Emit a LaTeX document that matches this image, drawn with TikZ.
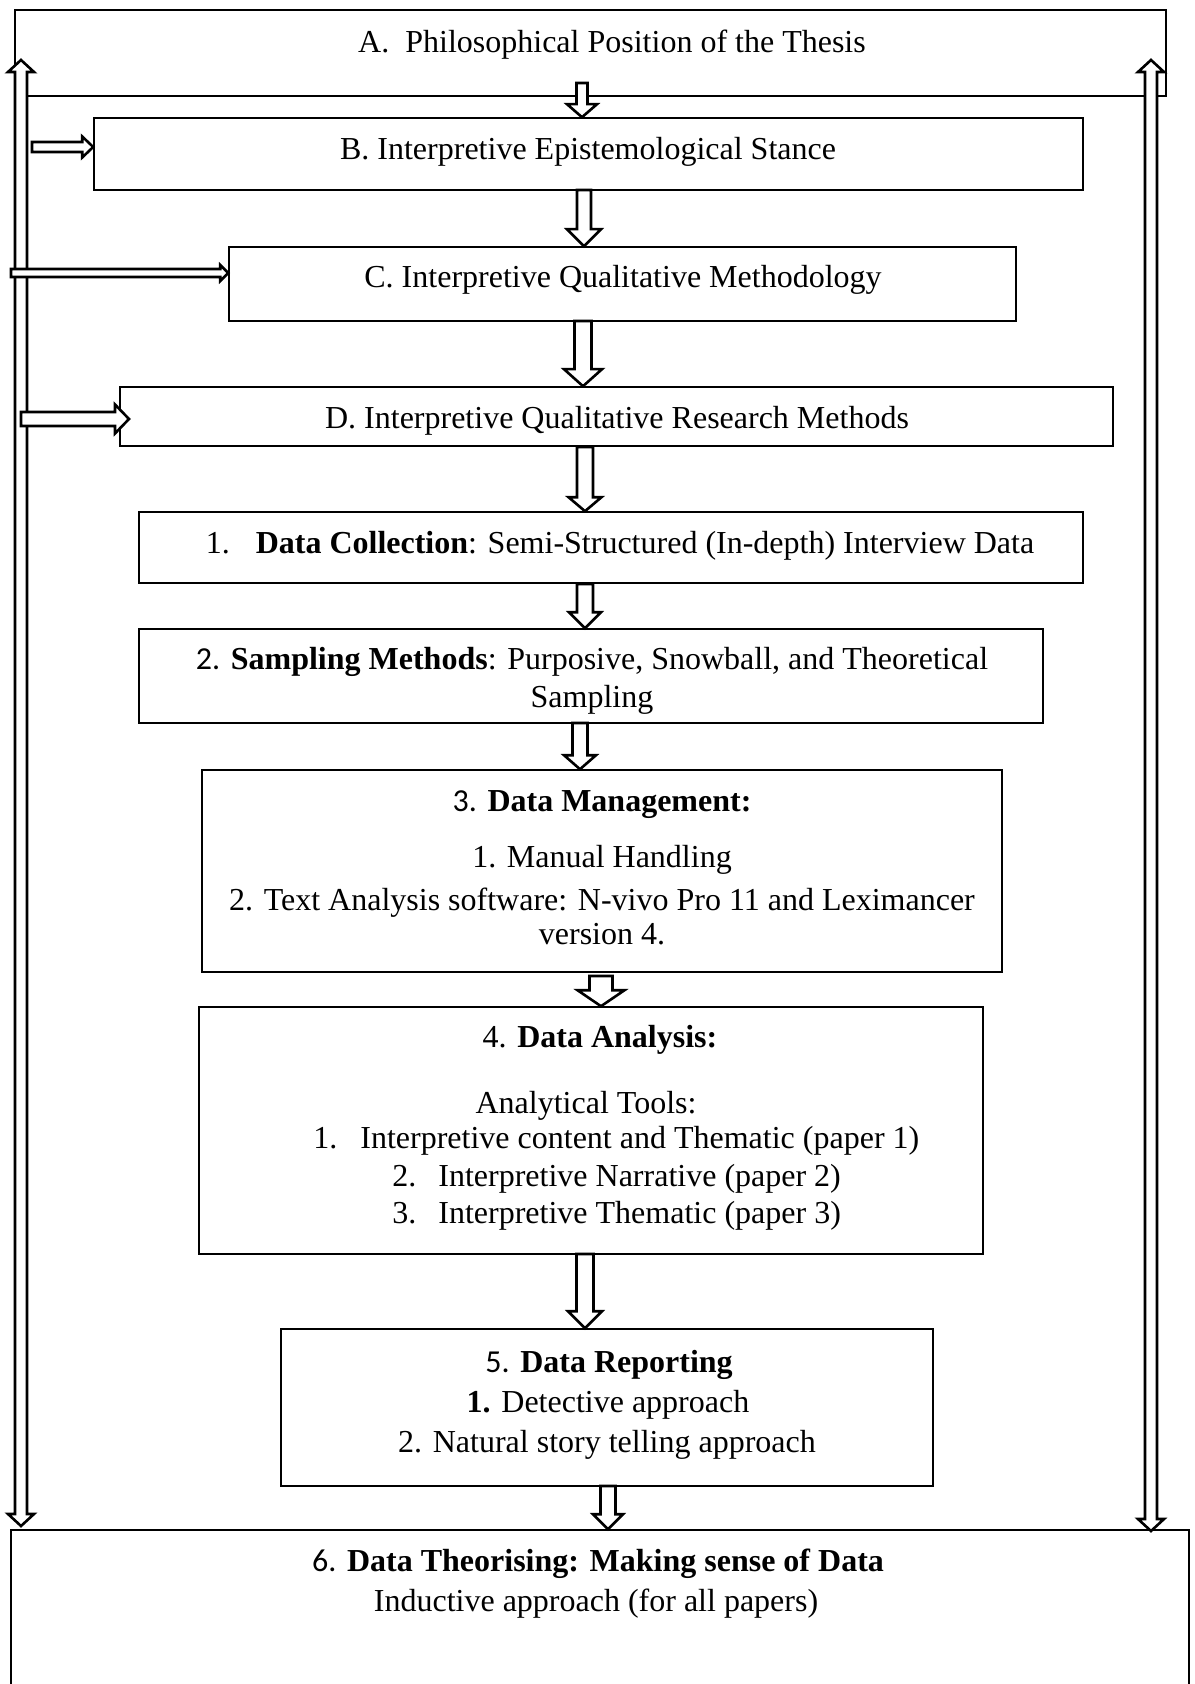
\documentclass[tikz,border=0pt]{standalone}
\usepackage{fontspec}
\setmainfont{Liberation Serif}
\newfontfamily\numfont{Carlito}
\usetikzlibrary{calc}

% Hollow block arrow from #1 to the tip #2:
% #3 half shaft width, #4 half head width, #5 head length
\newcommand{\blockarrow}[5]{%
  \coordinate (ba-h) at ($(#2)!#5!(#1)$);
  \draw[hollowarrow] ($(#1)!#3!90:(#2)$) -- ($(ba-h)!#3!-90:(#1)$)
    -- ($(ba-h)!#4!-90:(#1)$) -- (#2) -- ($(ba-h)!#4!90:(#1)$)
    -- ($(ba-h)!#3!90:(#1)$) -- ($(#1)!#3!-90:(#2)$) -- cycle;
}
% Hollow arrow with a head at both ends, tips #1 and #2
\newcommand{\doubleblockarrow}[5]{%
  \coordinate (da-h1) at ($(#1)!#5!(#2)$);
  \coordinate (da-h2) at ($(#2)!#5!(#1)$);
  \draw[hollowarrow] (#1) -- ($(da-h1)!#4!90:(#2)$) -- ($(da-h1)!#3!90:(#2)$)
    -- ($(da-h2)!#3!-90:(#1)$) -- ($(da-h2)!#4!-90:(#1)$) -- (#2)
    -- ($(da-h2)!#4!90:(#1)$) -- ($(da-h2)!#3!90:(#1)$)
    -- ($(da-h1)!#3!-90:(#2)$) -- ($(da-h1)!#4!-90:(#2)$) -- cycle;
}

\tikzset{
  boxframe/.style={draw, line width=0.8pt, rectangle, inner sep=0pt},
  hollowarrow/.style={draw, fill=white, line width=1.3pt, line join=miter},
  txt/.style={inner sep=0pt, font=\fontsize{16pt}{18.5pt}\selectfont,
    text height=15pt, text depth=3.5pt},
}

\begin{document}
\begin{tikzpicture}[x=0.5pt, y=-0.5pt]
\fill[white] (0,0) rectangle (1194,1684);
\clip (0,0) rectangle (1194,1684);

% boxes
\node[boxframe, minimum width=575.5pt, minimum height=43pt]  (A)  at (590.5,53) {};
\node[boxframe, minimum width=494.5pt, minimum height=36pt]  (B)  at (588.5,154) {};
\node[boxframe, minimum width=393.5pt, minimum height=37pt]  (C)  at (622.5,284) {};
\node[boxframe, minimum width=496.5pt, minimum height=29.5pt] (D) at (616.5,416.5) {};
\node[boxframe, minimum width=472pt, minimum height=35.5pt]  (S1) at (611,547.5) {};
\node[boxframe, minimum width=452pt, minimum height=47pt]    (S2) at (591,676) {};
\node[boxframe, minimum width=400pt, minimum height=101pt]   (S3) at (602,871) {};
\node[boxframe, minimum width=392pt, minimum height=123.5pt] (S4) at (591,1130.5) {};
\node[boxframe, minimum width=326pt, minimum height=78.5pt]  (S5) at (607,1407.5) {};
\node[boxframe, minimum width=589pt, minimum height=100pt]   (S6) at (600,1630) {};

% texts
\node[txt] (tA) at (612,41) {A.\ \ Philosophical Position of the Thesis};
\node[txt] (tB) at (588,148) {B. Interpretive Epistemological Stance};
\node[txt] (tC) at (623,276) {C. Interpretive Qualitative Methodology};
\node[txt] (tD) at (617,417) {D. Interpretive Qualitative Research Methods};
\node[txt] (t1) at (620,542) {1.\hspace{13pt}\textbf{Data Collection}: Semi-Structured (In-depth) Interview Data};
\node[txt] (t2a) at (592,658) {{\numfont 2.} \textbf{Sampling Methods}: Purposive, Snowball, and Theoretical};
\node[txt] (t2b) at (592,696) {Sampling};
\node[txt] (t3a) at (602,800) {{\numfont 3.} \textbf{Data Management:}};
\node[txt] (t3b) at (602,856) {1. Manual Handling};
\node[txt] (t3c) at (602,899) {2. Text Analysis software: N-vivo Pro 11 and Leximancer};
\node[txt] (t3d) at (602,933) {version 4.};
\node[txt] (t4a) at (600,1036) {4. \textbf{Data Analysis:}};
\node[txt] (t4b) at (586,1102) {Analytical Tools:};
\node[txt, anchor=west] (t4c) at (313,1137) {1.\hspace{11.5pt}Interpretive content and Thematic (paper 1)};
\node[txt, anchor=west] (t4d) at (392,1175) {2.\hspace{11pt}Interpretive Narrative (paper 2)};
\node[txt, anchor=west] (t4e) at (392,1212) {3.\hspace{11pt}Interpretive Thematic (paper 3)};
\node[txt] (t5a) at (609,1361) {{\numfont 5.} \textbf{Data Reporting}};
\node[txt] (t5b) at (608,1401) {\textbf{1.} Detective approach};
\node[txt] (t5c) at (607,1441) {2. Natural story telling approach};
\node[txt] (t6a) at (598,1560) {{\numfont 6.} \textbf{Data Theorising: Making sense of Data}};
\node[txt] (t6b) at (596,1600) {Inductive approach (for all papers)};

% long feedback arrows on both sides
\coordinate (L1) at (21,60);
\coordinate (L2) at (21,1526);
\coordinate (R1) at (1151,60);
\coordinate (R2) at (1151,1531);
\doubleblockarrow{L1}{L2}{3pt}{6.5pt}{6pt}
\doubleblockarrow{R1}{R2}{3pt}{6.5pt}{6pt}

% side arrows into B, C and D
\coordinate (hB) at (32,147);
\coordinate (hBt) at (hB -| B.west);
\blockarrow{hB}{hBt}{2.5pt}{5.25pt}{5.5pt}
\coordinate (hC) at (11,273);
\coordinate (hCt) at (hC -| C.west);
\blockarrow{hC}{hCt}{2pt}{4pt}{4pt}
\coordinate (hD) at (21,419);
\coordinate (hDt) at (129,419);
\blockarrow{hD}{hDt}{3.5pt}{7.25pt}{7pt}

% downward chain
\coordinate (vAB) at (582,83);
\coordinate (vABt) at (vAB |- B.north);
\blockarrow{vAB}{vABt}{2.75pt}{7.5pt}{6.5pt}

\coordinate (vBC) at (584,190);
\coordinate (vBCt) at (vBC |- C.north);
\blockarrow{vBC}{vBCt}{3.5pt}{8.5pt}{8.5pt}

\coordinate (vCD) at (583,321);
\coordinate (vCDt) at (vCD |- D.north);
\blockarrow{vCD}{vCDt}{4.25pt}{9.5pt}{8.5pt}

\coordinate (vD1) at (585,447);
\coordinate (vD1t) at (vD1 |- S1.north);
\blockarrow{vD1}{vD1t}{4pt}{8.25pt}{7pt}

\coordinate (v12) at (585,584);
\coordinate (v12t) at (v12 |- S2.north);
\blockarrow{v12}{v12t}{4pt}{8pt}{8pt}

\coordinate (v23) at (580,723);
\coordinate (v23t) at (v23 |- S3.north);
\blockarrow{v23}{v23t}{3.75pt}{8pt}{7pt}

\coordinate (v34) at (601,976);
\coordinate (v34t) at (v34 |- S4.north);
\blockarrow{v34}{v34t}{5.75pt}{11.75pt}{8pt}

\coordinate (v45) at (585,1254);
\coordinate (v45t) at (v45 |- S5.north);
\blockarrow{v45}{v45t}{4.25pt}{8.5pt}{8.5pt}

\coordinate (v56) at (608,1486);
\coordinate (v56t) at (v56 |- S6.north);
\blockarrow{v56}{v56t}{3.75pt}{7.5pt}{7.5pt}
\end{tikzpicture}
\end{document}
